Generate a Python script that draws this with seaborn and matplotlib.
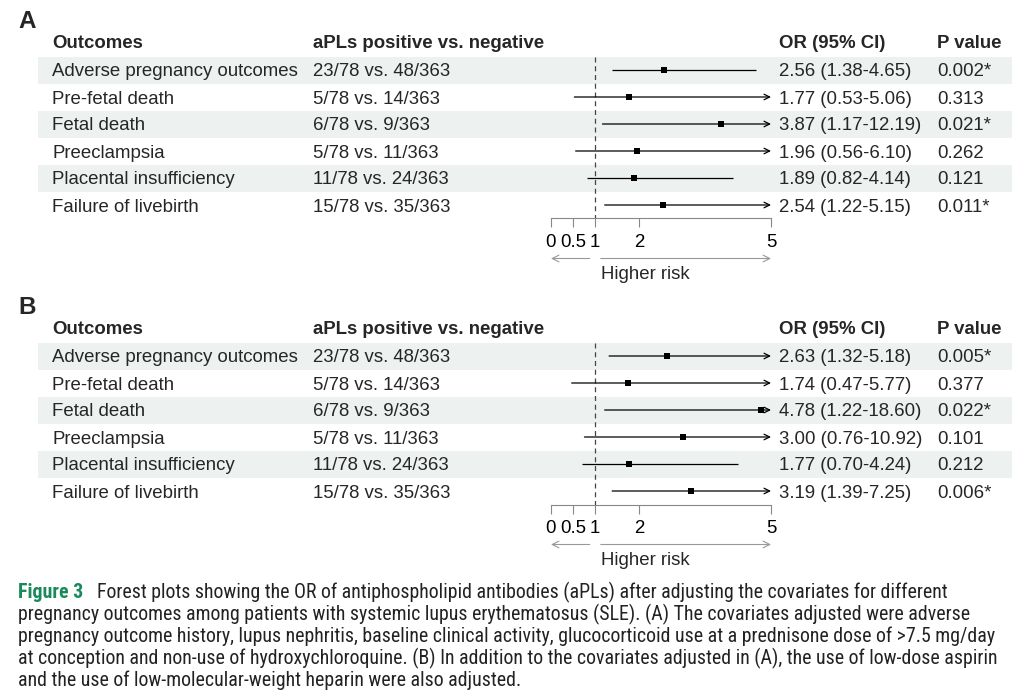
import matplotlib
matplotlib.use('Agg')
import matplotlib.pyplot as plt
import matplotlib.transforms as mtransforms
from matplotlib.patches import Rectangle
import seaborn as sns
import pandas as pd

# ---- data ----
outcomes = ['Adverse pregnancy outcomes', 'Pre-fetal death', 'Fetal death',
            'Preeclampsia', 'Placental insufficiency', 'Failure of livebirth']
counts = ['23/78 vs. 48/363', '5/78 vs. 14/363', '6/78 vs. 9/363',
          '5/78 vs. 11/363', '11/78 vs. 24/363', '15/78 vs. 35/363']

or_a = [2.56, 1.77, 3.87, 1.96, 1.89, 2.54]
lo_a = [1.38, 0.53, 1.17, 0.56, 0.82, 1.22]
hi_a = [4.65, 5.06, 12.19, 6.10, 4.14, 5.15]
p_a = ['0.002*', '0.313', '0.021*', '0.262', '0.121', '0.011*']

or_b = [2.63, 1.74, 4.78, 3.00, 1.77, 3.19]
lo_b = [1.32, 0.47, 1.22, 0.76, 0.70, 1.39]
hi_b = [5.18, 5.77, 18.60, 10.92, 4.24, 7.25]
p_b = ['0.005*', '0.377', '0.022*', '0.101', '0.212', '0.006*']

xticks = [0, 0.5, 1, 2, 5]
x_max = 5

caption = [
    'Forest plots showing the OR of antiphospholipid antibodies (aPLs) after adjusting the covariates for different',
    'pregnancy outcomes among patients with systemic lupus erythematosus (SLE). (A) The covariates adjusted were adverse',
    'pregnancy outcome history, lupus nephritis, baseline clinical activity, glucocorticoid use at a prednisone dose of >7.5 mg/day',
    'at conception and non-use of hydroxychloroquine. (B) In addition to the covariates adjusted in (A), the use of low-dose aspirin',
    'and the use of low-molecular-weight heparin were also adjusted.',
]

sns.set_theme(style='white')
plt.rcParams['font.family'] = ['Liberation Sans', 'DejaVu Sans']

W, H = 1024, 696
fig = plt.figure(figsize=(W / 100, H / 100), dpi=100)
fig.patch.set_facecolor('white')

# background axes in pixel units for table text and shading
base = fig.add_axes([0, 0, 1, 1], zorder=0)
base.set_xlim(0, W)
base.set_ylim(H, 0)
base.axis('off')

FS = 13.4
PITCH = 27
COL_OUT, COL_CNT, COL_OR, COL_P = 52, 313, 779, 937
X0_PX, X5_PX = 551, 771
SHADE = '#edf1ef'


def draw_panel(label, row0, ors, los, his, ps):
    """Draw one forest panel; row0 is pixel y of first data row"""
    df = pd.DataFrame({'outcome': outcomes, 'count': counts, 'or': ors,
                       'lo': los, 'hi': his, 'p': ps})
    df['row'] = range(len(df))

    base.text(18, row0 - 49, label, fontsize=17.5, fontweight='bold',
              va='center', ha='left')
    hy = row0 - PITCH
    for x, t in [(COL_OUT, 'Outcomes'), (COL_CNT, 'aPLs positive vs. negative'),
                 (COL_OR, 'OR (95% CI)'), (COL_P, 'P value')]:
        base.text(x, hy - 1, t, fontsize=FS, fontweight='bold', va='center_baseline')

    for _, r in df.iterrows():
        y = row0 + PITCH * r['row']
        if r['row'] % 2 == 0:
            base.add_patch(Rectangle((38, y - PITCH / 2), 1012 - 38, PITCH,
                                     color=SHADE, lw=0, zorder=0))
        base.text(COL_OUT, y, r['outcome'], fontsize=FS, va='center_baseline')
        base.text(COL_CNT, y, r['count'], fontsize=FS, va='center_baseline')
        base.text(COL_OR, y, f"{r['or']:.2f} ({r['lo']:.2f}-{r['hi']:.2f})",
                  fontsize=FS, va='center_baseline')
        base.text(COL_P, y, r['p'], fontsize=FS, va='center_baseline')

    # forest axes: rows -1.5 .. 5.5
    top = row0 - 1.5 * PITCH
    bot = row0 + 5.5 * PITCH
    ax = fig.add_axes([X0_PX / W, 1 - bot / H, (X5_PX - X0_PX) / W, (bot - top) / H],
                      zorder=2)
    ax.patch.set_alpha(0)
    ax.set_xlim(0, x_max)
    ax.set_ylim(5.5, -1.5)

    ax.vlines(1, -0.5, 5.5, colors='#444444', linestyles=(0, (4, 3)), lw=0.9)
    for _, r in df.iterrows():
        if r['hi'] > x_max:
            ax.annotate('', xy=(x_max, r['row']), xytext=(r['lo'], r['row']),
                        arrowprops=dict(arrowstyle='->', color='black', lw=0.9,
                                        shrinkA=0, shrinkB=0, mutation_scale=10),
                        annotation_clip=False)
        else:
            ax.hlines(r['row'], r['lo'], r['hi'], colors='black', lw=0.9)
    sns.scatterplot(data=df, x='or', y='row', marker='s', color='black', s=24,
                    edgecolor='black', linewidth=0, ax=ax, zorder=3, legend=False)

    for s in ['top', 'left', 'right']:
        ax.spines[s].set_visible(False)
    ax.spines['bottom'].set_color('#888888')
    ax.spines['bottom'].set_linewidth(0.8)
    ax.set_xticks(xticks)
    ax.set_xticklabels([f'{t:g}' for t in xticks])
    ax.tick_params(axis='x', direction='out', length=6.5, width=0.8, color='#888888',
                   labelsize=FS, pad=4.5, labelcolor='black', bottom=True)
    ax.set_yticks([])
    ax.set_xlabel('')
    ax.set_ylabel('')

    # direction arrows and label
    tr = mtransforms.blended_transform_factory(ax.transData, base.transData)
    ay = bot + 40
    ax.annotate('', xy=(0, ay), xytext=(0.88, ay), xycoords=tr, textcoords=tr,
                arrowprops=dict(arrowstyle='->', color='#999999', lw=0.8,
                                shrinkA=0, shrinkB=0), annotation_clip=False)
    ax.annotate('', xy=(x_max, ay), xytext=(1.13, ay), xycoords=tr, textcoords=tr,
                arrowprops=dict(arrowstyle='->', color='#999999', lw=0.8,
                                shrinkA=0, shrinkB=0), annotation_clip=False)
    base.text(601, ay + 14, 'Higher risk', fontsize=FS, va='center_baseline', ha='left')


draw_panel('A', 70, or_a, lo_a, hi_a, p_a)
draw_panel('B', 356, or_b, lo_b, hi_b, p_b)

# caption
cap_font = ['Liberation Sans Narrow', 'Roboto Condensed', 'Liberation Sans', 'DejaVu Sans']
CAP_FS = 14.3
base.text(18, 590, 'Figure 3', fontsize=CAP_FS, fontweight='bold', color='#1a8a5c',
          va='center_baseline', family=cap_font)
for i, line in enumerate(caption):
    base.text(97 if i == 0 else 18, 590 + 22 * i, line, fontsize=CAP_FS,
              va='center_baseline', family=cap_font, color='#222222')

fig.savefig('out.png', dpi=100)
